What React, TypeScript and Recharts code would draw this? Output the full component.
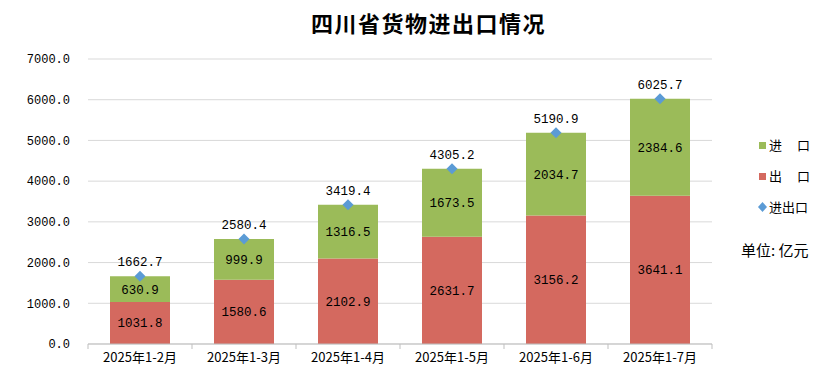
import { Bar, ComposedChart, LabelList, Line, XAxis, YAxis, CartesianGrid } from "recharts";

const categories = ["2025年1-2月", "2025年1-3月", "2025年1-4月", "2025年1-5月", "2025年1-6月", "2025年1-7月"];
const exportsVal = [1031.8, 1580.6, 2102.9, 2631.7, 3156.2, 3641.1];
const importsVal = [630.9, 999.9, 1316.5, 1673.5, 2034.7, 2384.6];
const totalVal = [1662.7, 2580.4, 3419.4, 4305.2, 5190.9, 6025.7];
const yTicks = [0, 1000, 2000, 3000, 4000, 5000, 6000, 7000];

const data = categories.map((c, i) => ({
  name: c,
  exp: exportsVal[i],
  imp: importsVal[i],
  total: totalVal[i],
}));

const GREEN = "#9BBB59";
const RED = "#D4695F";
const BLUE = "#5B9BD5";
const NUM_FONT = "'Liberation Mono', 'DejaVu Sans Mono', monospace";
const CJK_FONT = "'Noto Sans CJK SC', sans-serif";

const Diamond = (props: any) => {
  const { cx, cy } = props;
  if (cx == null || cy == null) return null;
  const r = 5.5;
  return <path d={`M${cx},${cy - r}L${cx + r},${cy}L${cx},${cy + r}L${cx - r},${cy}Z`} fill={BLUE} />;
};

const XTick = (props: any) => {
  const { x, y, payload, index } = props;
  const half = 52;
  return (
    <g>
      <line x1={x - half} x2={x - half} y1={y - 6} y2={y - 1} stroke="#BFBFBF" />
      {index === categories.length - 1 && (
        <line x1={x + half} x2={x + half} y1={y - 6} y2={y - 1} stroke="#BFBFBF" />
      )}
      <text x={x} y={y + 12} textAnchor="middle" fontSize={13} fontFamily={CJK_FONT} fill="#000">
        {payload.value}
      </text>
    </g>
  );
};

const legendItems = [
  { label: "进", label2: "口", type: "rect", color: GREEN },
  { label: "出", label2: "口", type: "rect", color: RED },
  { label: "进出口", label2: "", type: "diamond", color: BLUE },
];

const LegendBox = () => (
  <div
    style={{
      position: "absolute",
      left: 758,
      top: 129,
      fontFamily: CJK_FONT,
      fontSize: 13,
      color: "#000",
      whiteSpace: "nowrap",
    }}
  >
    {legendItems.map((it, i) => (
      <div key={i} style={{ display: "flex", alignItems: "center", height: 31 }}>
        {it.type === "rect" ? (
          <svg width={10} height={10}>
            <rect x={1} y={2} width={7} height={7} fill={it.color} />
          </svg>
        ) : (
          <svg width={10} height={10}>
            <path d="M4.5,0L9,5L4.5,10L0,5Z" fill={it.color} />
          </svg>
        )}
        <span style={{ marginLeft: 1, width: it.label2 ? 28 : "auto" }}>{it.label}</span>
        {it.label2 && <span>{it.label2}</span>}
      </div>
    ))}
  </div>
);

export default function App() {
  return (
    <div style={{ position: "absolute", left: 0, top: 0, width: 837, height: 374, background: "#fff" }}>
      <div
        style={{
          position: "absolute",
          left: 0,
          width: 857,
          top: 6,
          textAlign: "center",
          fontFamily: CJK_FONT,
          fontWeight: 700,
          fontSize: 22,
          letterSpacing: 1.5,
          color: "#000",
        }}
      >
        四川省货物进出口情况
      </div>
      <div
        style={{
          position: "absolute",
          left: 741,
          top: 239,
          fontFamily: CJK_FONT,
          fontSize: 15,
          color: "#000",
          whiteSpace: "nowrap",
        }}
      >
        单位: 亿元
      </div>
      <LegendBox />
      <ComposedChart
        width={837}
        height={374}
        data={data}
        margin={{ top: 59, right: 125, left: 0, bottom: 0 }}
        barCategoryGap={44}
        style={{ position: "absolute", left: 0, top: 0 }}
      >
        <CartesianGrid vertical={false} stroke="#D9D9D9" />
        <XAxis
          dataKey="name"
          tickLine={false}
          tickSize={0}
          tickMargin={6}
          axisLine={{ stroke: "#BFBFBF" }}
          height={30}
          interval={0}
          tick={<XTick />}
        />
        <YAxis
          width={88}
          domain={[0, 7000]}
          ticks={yTicks}
          interval={0}
          axisLine={false}
          tickLine={false}
          tickMargin={12}
          tick={{ fontSize: 12, fontFamily: NUM_FONT, fill: "#000" }}
          tickFormatter={(v: number) => v.toFixed(1)}
        />
        <Bar dataKey="exp" stackId="a" fill={RED} barSize={60} isAnimationActive={false}>
          <LabelList
            dataKey="exp"
            position="center"
            formatter={(v: any) => Number(v).toFixed(1)}
            style={{ fontSize: 12.5, fontFamily: NUM_FONT, fill: "#000" }}
          />
        </Bar>
        <Bar dataKey="imp" stackId="a" fill={GREEN} barSize={60} isAnimationActive={false}>
          <LabelList
            dataKey="imp"
            position="center"
            formatter={(v: any) => Number(v).toFixed(1)}
            style={{ fontSize: 12.5, fontFamily: NUM_FONT, fill: "#000" }}
          />
        </Bar>
        <Line
          dataKey="total"
          stroke="none"
          dot={<Diamond />}
          activeDot={false}
          isAnimationActive={false}
        >
          <LabelList
            dataKey="total"
            position="top"
            offset={10}
            formatter={(v: any) => Number(v).toFixed(1)}
            style={{ fontSize: 12.5, fontFamily: NUM_FONT, fill: "#000" }}
          />
        </Line>
      </ComposedChart>
    </div>
  );
}
